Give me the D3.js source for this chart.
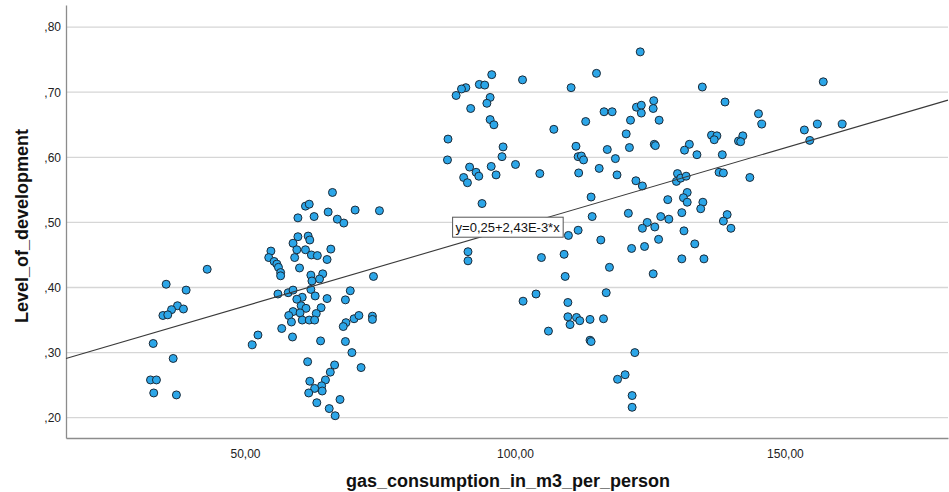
<!DOCTYPE html>
<html>
<head>
<meta charset="utf-8">
<script src="https://cdn.jsdelivr.net/npm/d3@7"></script>
<style>
  html, body { margin: 0; padding: 0; background: #fff; }
  svg { display: block; font-family: "Liberation Sans", Arial, sans-serif; }
</style>
</head>
<body>
<svg id="chart" width="949" height="492"></svg>
<script>
// ---- data (gas consumption m3/person, level of development) ----
const gasLeft = [43.0,35.4,39.1,37.5,36.4,38.6,34.8,35.7,33.0,36.7,32.5,33.6,33.1,37.3];
const devLeft = [0.428,0.405,0.396,0.372,0.366,0.367,0.357,0.358,0.314,0.291,0.258,0.258,0.238,0.235];

const gasMid = [66.2,61.2,61.9,65.4,70.4,74.9,59.8,62.8,67.1,68.3,59.8,61.7,62.0,58.9,59.6,61.2,59.2,62.3,63.4,65.2,65.9,54.8,54.4,55.4,55.9,56.2,56.6,56.6,60.1,62.2,64.4,63.8,62.4,73.8,56.1,58.0,58.9,62.2,63.0,60.6,59.6,65.2,69.5,68.6,
  60.4,61.3,64.1,58.9,60.2,58.1,63.2,58.6,60.6,61.9,62.9,68.7,68.2,70.2,71.1,73.6,73.6,56.8,52.4,51.35,58.8,64.0,68.6,69.8,61.6,66.6,71.5,65.8,64.9,62.0,64.2,62.9,64.3,61.8,67.6,63.3,65.6,66.7];
const devMid = [0.546,0.525,0.528,0.516,0.519,0.518,0.507,0.509,0.505,0.499,0.478,0.479,0.473,0.468,0.458,0.458,0.446,0.450,0.449,0.443,0.459,0.456,0.446,0.440,0.436,0.431,0.423,0.418,0.430,0.419,0.421,0.413,0.410,0.417,0.390,0.392,0.396,0.397,0.387,0.385,0.382,0.383,0.395,0.381,
  0.372,0.368,0.369,0.363,0.361,0.357,0.360,0.347,0.350,0.350,0.350,0.346,0.340,0.352,0.357,0.356,0.351,0.337,0.327,0.312,0.324,0.318,0.317,0.300,0.286,0.281,0.277,0.270,0.258,0.256,0.249,0.245,0.241,0.238,0.228,0.223,0.214,0.203];

const gasRight = [95.7,101.4,93.4,94.4,90.9,90.1,89.1,110.4,95.4,94.8,91.8,95.4,96.1,107.2,87.6,97.8,111.3,87.5,97.6,111.7,91.6,95.6,100.1,92.8,93.3,90.5,91.2,96.5,104.6,111.8,
  93.9,109.9,111.7,91.3,91.3,104.9,109.1,109.3,101.5,103.9,109.8,109.8,111.4,112.0,110.2,106.2,
  123.2,115.1,134.7,125.7,122.5,123.4,123.4,125.6,116.5,118.0,121.4,126.7,113.1,120.6,136.4,137.4,136.9,117.1,121.2,125.8,126.0,132.3,131.4,133.7,112.3,112.7,118.6,115.6,118.9,122.4,123.6,130.1,129.9,130.7,131.7,131.9,131.2,128.3,114.1,137.8,
  131.9,134.8,134.4,114.3,121.0,127.0,128.5,130.9,124.5,123.6,125.9,115.9,131.3,126.6,133.3,121.6,124.0,130.9,135.0,117.5,125.6,116.9,113.9,116.4,113.9,
  114.1,122.2,119.0,120.4,121.7,121.7,
  157.1,138.9,145.1,145.7,153.6,156.0,160.6,154.6,142.2,141.4,141.8,138.4,138.6,143.5,
  139.3,138.6,140.0];
const devRight = [0.727,0.719,0.712,0.711,0.707,0.705,0.695,0.707,0.692,0.683,0.675,0.658,0.650,0.643,0.628,0.616,0.617,0.596,0.601,0.601,0.585,0.586,0.589,0.577,0.571,0.569,0.561,0.573,0.575,0.576,
  0.529,0.480,0.488,0.455,0.441,0.446,0.451,0.417,0.379,0.390,0.377,0.355,0.354,0.349,0.343,0.333,
  0.762,0.729,0.708,0.687,0.677,0.680,0.668,0.675,0.670,0.670,0.657,0.657,0.655,0.636,0.634,0.633,0.627,0.612,0.615,0.620,0.618,0.620,0.611,0.604,0.602,0.596,0.598,0.583,0.573,0.564,0.556,0.575,0.563,0.568,0.571,0.546,0.538,0.535,0.539,0.577,
  0.531,0.531,0.521,0.509,0.514,0.509,0.505,0.515,0.500,0.491,0.493,0.473,0.487,0.474,0.467,0.460,0.463,0.444,0.444,0.431,0.421,0.392,0.351,0.352,0.319,
  0.317,0.300,0.259,0.266,0.234,0.216,
  0.716,0.685,0.667,0.651,0.642,0.651,0.651,0.626,0.633,0.625,0.624,0.604,0.576,0.569,
  0.512,0.502,0.491];

const xTicks = [50, 100, 150];
const yTicks = [0.2, 0.3, 0.4, 0.5, 0.6, 0.7, 0.8];
const fitIntercept = 0.25, fitSlope = 0.00243;
const fitLabel = "y=0,25+2,43E-3*x";
const fitLabelAnchor = [88.45, 0.508]; // data coords of the label box's top-left
const xTitle = "gas_consumption_in_m3_per_person";
const yTitle = "Level_of_development";

// ---- chart ----
const svg = d3.select("#chart");
const L = 66, R = 948, T = 5, B = 438;
const x = d3.scaleLinear().domain([16.85, 180.2]).range([L, R]);
const y = d3.scaleLinear().domain([0.1688, 0.834]).range([B, T]);

const pts = [];
[[gasLeft, devLeft], [gasMid, devMid], [gasRight, devRight]].forEach(([gx, dy]) => {
  gx.forEach((v, i) => pts.push([v, dy[i]]));
});

// gridlines
svg.append("g")
  .selectAll("line").data(yTicks).join("line")
  .attr("x1", L).attr("x2", R)
  .attr("y1", d => y(d)).attr("y2", d => y(d))
  .attr("stroke", "#d6d6d6").attr("stroke-width", 1.3);

// axes
const fmtY = d => "," + d3.format(".2f")(d).split(".")[1];
const fmtX = d => d3.format(".2f")(d).replace(".", ",");

const yAxis = svg.append("g").attr("transform", `translate(${L},0)`)
  .call(d3.axisLeft(y).tickValues(yTicks).tickFormat(fmtY).tickSize(0).tickPadding(5));
yAxis.select(".domain").attr("stroke", "#8c8c8c").attr("stroke-width", 1.3);
yAxis.selectAll("text").attr("font-size", 12).attr("fill", "#222")
  .attr("font-family", "Liberation Sans, Arial, sans-serif");

const xAxis = svg.append("g").attr("transform", `translate(0,${B})`)
  .call(d3.axisBottom(x).tickValues(xTicks).tickFormat(fmtX).tickSize(0).tickPadding(11));
xAxis.select(".domain").attr("stroke", "#8c8c8c").attr("stroke-width", 1.3);
xAxis.selectAll("text").attr("font-size", 12).attr("fill", "#222")
  .attr("font-family", "Liberation Sans, Arial, sans-serif");

// points
svg.append("g")
  .selectAll("circle").data(pts).join("circle")
  .attr("cx", d => x(d[0])).attr("cy", d => y(d[1]))
  .attr("r", 4)
  .attr("fill", "#2ca6e8")
  .attr("stroke", "#1b2a38").attr("stroke-width", 1);

// fit line
const xd = x.domain();
svg.append("line")
  .attr("x1", x(xd[0])).attr("y1", y(fitIntercept + fitSlope * xd[0]))
  .attr("x2", x(xd[1])).attr("y2", y(fitIntercept + fitSlope * xd[1]))
  .attr("stroke", "#3a3a3a").attr("stroke-width", 1.1);

// fit label
const lg = svg.append("g")
  .attr("transform", `translate(${x(fitLabelAnchor[0])},${y(fitLabelAnchor[1])})`);
const lt = lg.append("text")
  .attr("x", 3).attr("y", 15)
  .attr("font-size", 13).attr("fill", "#111")
  .text(fitLabel);
const bb = lt.node().getBBox();
lg.insert("rect", "text")
  .attr("x", 0).attr("y", 0)
  .attr("width", bb.width + 6).attr("height", 20)
  .attr("fill", "#fff").attr("stroke", "#555").attr("stroke-width", 1);

// titles
svg.append("text")
  .attr("x", 508).attr("y", 487)
  .attr("text-anchor", "middle")
  .attr("font-size", 18).attr("font-weight", "bold").attr("fill", "#111")
  .text(xTitle);
svg.append("text")
  .attr("transform", "translate(28,226) rotate(-90)")
  .attr("text-anchor", "middle")
  .attr("font-size", 18).attr("font-weight", "bold").attr("fill", "#111")
  .text(yTitle);
</script>
</body>
</html>
